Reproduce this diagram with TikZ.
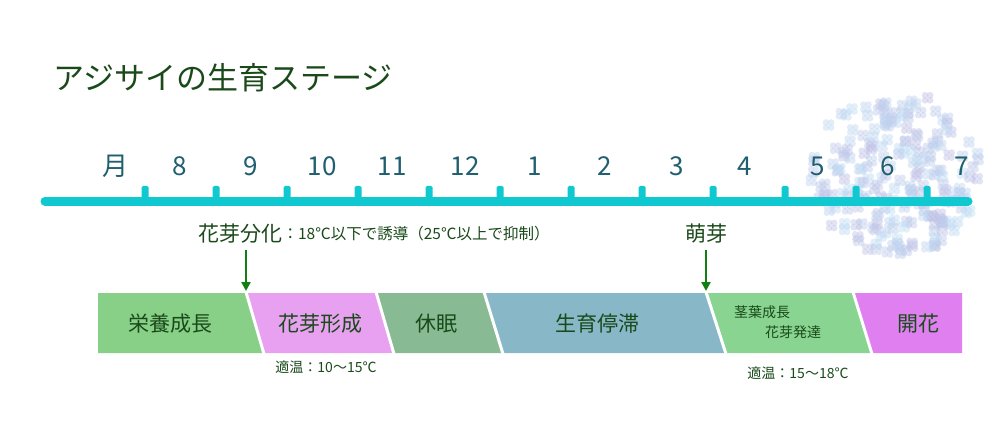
\documentclass[tikz,border=0pt]{standalone}
\usepackage{fontspec}
\setmainfont{Noto Sans CJK JP}
\usetikzlibrary{arrows.meta}
\definecolor{linecol}{HTML}{10C8D0}
\definecolor{monthcol}{HTML}{1F5F6F}
\definecolor{textcol}{HTML}{1A4A1A}
\definecolor{arrowcol}{HTML}{108010}
\definecolor{growcol}{HTML}{88D088}
\definecolor{budcol}{HTML}{E8A0F0}
\definecolor{restcol}{HTML}{88BB94}
\definecolor{stopcol}{HTML}{88B8C8}
\definecolor{leafcol}{HTML}{88D490}
\definecolor{bloomcol}{HTML}{E080F0}
\begin{document}
\begin{tikzpicture}[x=1pt,y=-1pt]
\tikzset{
    % month labels
    month/.style={text=monthcol,font=\fontsize{26}{26}\selectfont},
    % stage band
    band/.style={draw=white,line width=3pt},
    stagelbl/.style={text=textcol,font=\fontsize{21}{21}\selectfont},
    smalllbl/.style={text=textcol,font=\fontsize{14}{14}\selectfont},
    pil/.style={-{Triangle[length=9pt,width=9pt]},arrowcol,line width=2.5pt}
}
\useasboundingbox (0,0) rectangle (1007,425);
\fill[white] (0,0) rectangle (1007,425);
\node[anchor=west,text=textcol,font=\fontsize{31}{31}\selectfont] (title) at (50,78) {アジサイの生育ステージ};

% hydrangea cluster
\pgfmathsetseed{7}
\foreach \i in {1,...,220}{
  \pgfmathsetmacro{\ang}{rnd*360}
  \pgfmathsetmacro{\rad}{sqrt(rnd)*86}
  \pgfmathsetmacro{\mix}{20+rnd*60}
  \pgfmathsetmacro{\fx}{897+\rad*cos(\ang)}
  \pgfmathsetmacro{\fy}{174+0.95*\rad*sin(\ang)}
  \foreach \p in {45,135,225,315}
    \fill[cyan!\mix!blue!25!white,opacity=0.45] ([shift={(\p:3.6)}]\fx,\fy) circle (3.3);
}

% timeline
\foreach \x in {145,216,287,358,429,500,571,642,713,785,856,927}
  \fill[linecol,rounded corners=1.5pt] (\x-3.5,186) rectangle (\x+3.5,200);
\draw[linecol,line width=9pt,line cap=round] (45,201) -- (968,201);
\foreach \m/\x in {月/115,8/180,9/251,10/322,11/392,12/465,1/535,2/605,3/677,4/745,5/818,6/888,7/962}
  \node[month] (m\x) at (\x,166) {\m};

% stages
\fill[growcol] (98,293) -- (246,293) -- (264,353) -- (98,353) -- cycle;
\fill[budcol] (246,293) -- (376,293) -- (394,353) -- (264,353) -- cycle;
\fill[restcol] (376,293) -- (484,293) -- (503,353) -- (394,353) -- cycle;
\fill[stopcol] (484,293) -- (706,293) -- (726,353) -- (503,353) -- cycle;
\fill[leafcol] (706,293) -- (853,293) -- (872,353) -- (726,353) -- cycle;
\fill[bloomcol] (853,293) -- (962,293) -- (962,353) -- (872,353) -- cycle;
\foreach \a/\b in {246/264,376/394,484/503,706/726,853/872}
  \draw[band] (\a,292) -- (\b,354);

\node[stagelbl] (grow) at (170,324) {栄養成長};
\node[stagelbl] (bud) at (320,324) {花芽形成};
\node[stagelbl] (rest) at (436,324) {休眠};
\node[stagelbl] (stop) at (597,324) {生育停滞};
\node[smalllbl] (leaf) at (762,312) {茎葉成長};
\node[smalllbl] (budgrow) at (793,332) {花芽発達};
\node[stagelbl] (bloom) at (918,324) {開花};

% events
\node[anchor=west,inner sep=0pt,text=textcol,font=\fontsize{21}{21}\selectfont] (diff) at (198,234) {花芽分化};
\node[anchor=west,inner sep=0pt,smalllbl,font=\fontsize{15.5}{15.5}\selectfont] (diffnote) at (diff.east) {：18℃以下で誘導（25℃以上で抑制）};
\node[text=textcol,font=\fontsize{21}{21}\selectfont] (sprout) at (706,234) {萌芽};
\coordinate (diffend) at (246,291);
\coordinate (sproutend) at (706,291);
\draw[pil] (246,250) -- (diffend);
\draw[pil] (706,250) -- (sproutend);

\node[smalllbl] (temp1) at (326,367) {適温：10～15℃};
\node[smalllbl] (temp2) at (798,373) {適温：15～18℃};
\end{tikzpicture}
\end{document}
